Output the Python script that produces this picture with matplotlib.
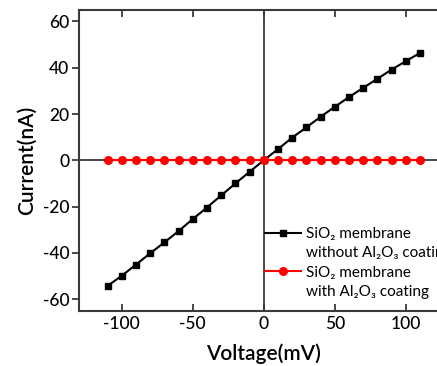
import matplotlib
matplotlib.use("Agg")
import matplotlib.pyplot as plt
from matplotlib.lines import Line2D

plt.rcParams['font.family'] = ['Lato', 'DejaVu Sans']
plt.rcParams['axes.unicode_minus'] = False

# voltage steps (mV)
voltage = [-110, -100, -90, -80, -70, -60, -50, -40, -30, -20, -10,
           0, 10, 20, 30, 40, 50, 60, 70, 80, 90, 100, 110]

# current without coating (nA)
current_uncoated = [-54.3, -49.9, -45.1, -40.2, -35.5, -30.6, -25.4, -20.4, -15.2, -10.0, -5.0,
                    0.0, 4.8, 9.8, 14.2, 18.8, 23.1, 27.3, 31.3, 35.2, 39.2, 42.8, 46.4]

# current with Al2O3 coating (nA)
current_coated = [0.0] * len(voltage)

xticks = [-100, -50, 0, 50, 100]
yticks = [-60, -40, -20, 0, 20, 40, 60]

fig = plt.figure(figsize=(4.37, 3.66), dpi=100)
ax = fig.add_axes([0.181, 0.151, 0.845, 0.822])

spine_col = '#3a3a3a'
ax.axhline(0, color=spine_col, lw=1.3, zorder=1)
ax.axvline(0, color=spine_col, lw=1.3, zorder=1)

l1, = ax.plot(voltage, current_uncoated, color='black', marker='s', ms=5, lw=1.5, zorder=3)
l2, = ax.plot(voltage, current_coated, color='#ff0000', marker='o', ms=5.5, lw=1.5, zorder=3)

ax.set_xlim(-130, 130)
ax.set_ylim(-65, 65)
ax.set_xticks(xticks)
ax.set_yticks(yticks)

for s in ax.spines.values():
    s.set_color(spine_col)
    s.set_linewidth(1.5)

ax.tick_params(axis='x', direction='in', top=True, length=5, width=1.3,
               color=spine_col, labelsize=12.5, pad=4)
ax.tick_params(axis='y', direction='out', length=5, width=1.3,
               color=spine_col, labelsize=12.5, pad=2)
for lab in ax.get_xticklabels() + ax.get_yticklabels():
    lab.set_fontweight('medium')

ax.set_xlabel('Voltage(mV)', fontsize=15, fontweight='semibold', labelpad=8)
ax.set_ylabel('Current(nA)', fontsize=15, fontweight='semibold', labelpad=4)

# legend: handle sits on the first line of each two-line label
blank = Line2D([], [], linestyle='none')
handles = [l1, blank, l2, blank]
labels = ['SiO\u2082 membrane', 'without Al\u2082O\u2083 coating',
          'SiO\u2082 membrane', 'with Al\u2082O\u2083 coating']
ax.legend(handles, labels, loc='upper left', bbox_to_anchor=(0.606, 0.380),
          bbox_transform=fig.transFigure, frameon=False, fontsize=11,
          handlelength=2.4, handletextpad=0.3, borderpad=0, borderaxespad=0,
          labelspacing=0.35)

fig.savefig('out.png', dpi=100)
